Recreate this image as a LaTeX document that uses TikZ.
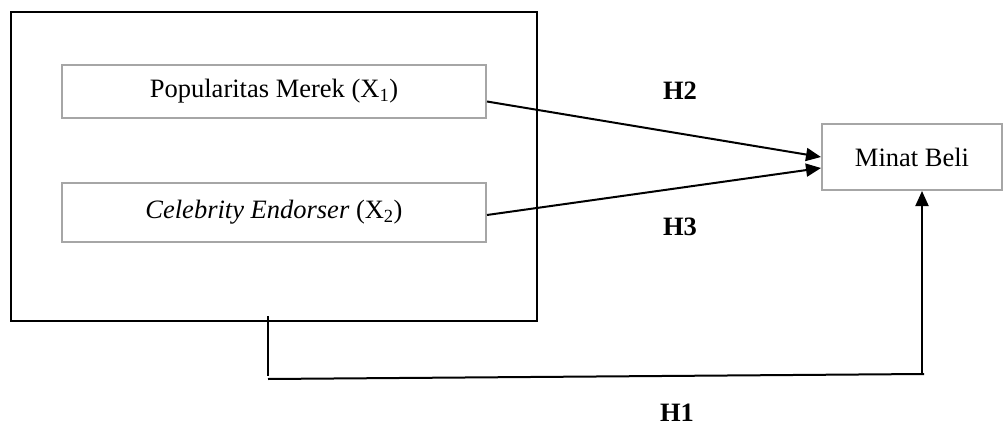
\documentclass[tikz,border=0pt]{standalone}
\usepackage{fontspec}
\setmainfont{Liberation Serif}
\usetikzlibrary{arrows.meta}
\begin{document}
\begin{tikzpicture}[x=1pt,y=-1pt,
  txt/.style={font=\fontsize{26.5pt}{30pt}\selectfont},
  varbox/.style={draw=black!35,line width=2pt,fill=white,inner sep=0pt,txt},
  outerbox/.style={draw=black,line width=2.8pt,inner sep=0pt},
  conn/.style={line width=2pt,draw=black},
  arr/.style={conn,-{Triangle[length=15pt,width=13pt]}},
  hlabel/.style={txt,font=\fontsize{26.5pt}{30pt}\selectfont\bfseries,inner sep=0pt}]
\useasboundingbox (0,0) rectangle (1005,428);
\node[outerbox,minimum width=526pt,minimum height=309pt] (outer) at (274,166.5) {};
\node[varbox,minimum width=424pt,minimum height=53pt] (pm) at (274,91.5) {Popularitas Merek (X\textsubscript{1})};
\node[varbox,minimum width=424pt,minimum height=59pt] (ce) at (274,212.5) {\textit{Celebrity Endorser} (X\textsubscript{2})};
\node[varbox,minimum width=180pt,minimum height=66pt] (mb) at (912,157) {Minat Beli};
\node[hlabel] (h2) at (680,91) {H2};
\node[hlabel] (h3) at (680,227) {H3};
\node[hlabel] (h1) at (677,413) {H1};
\coordinate (c1) at (268,316);
\coordinate (c2) at (268,376);
\coordinate (c3) at (268,379);
\coordinate (c4) at (924,374);
\coordinate (c5) at (922,374);
\draw[arr] ([yshift=-10pt]pm.east) -- (mb.west);
\draw[arr] ([yshift=-2.5pt]ce.east) -- ([yshift=-11pt]mb.west);
\draw[conn] (c1) -- (c2);
\draw[conn] (c3) -- (c4);
\draw[arr] (c5) -- (mb.south -| c5);
\end{tikzpicture}
\end{document}
